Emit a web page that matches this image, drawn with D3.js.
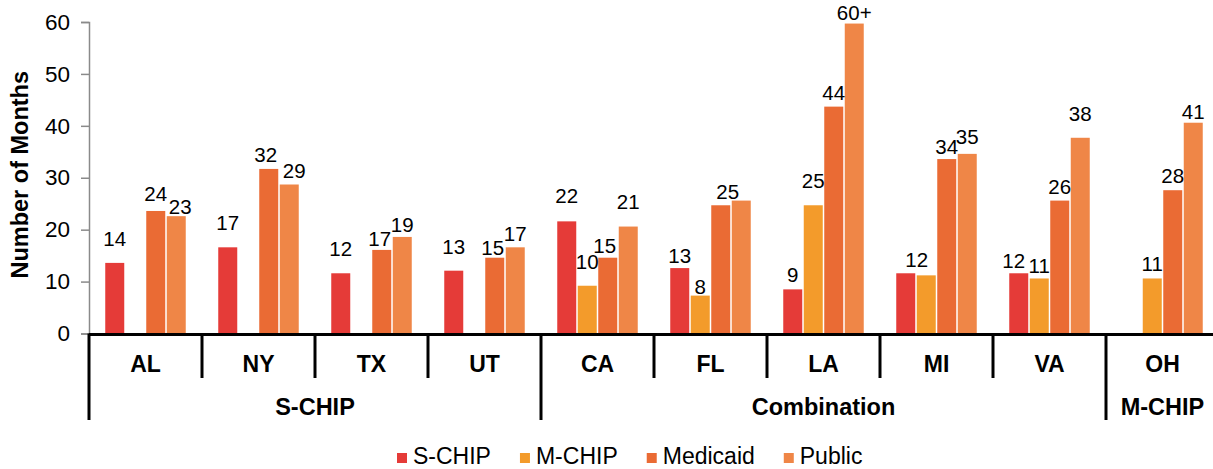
<!DOCTYPE html>
<html>
<head>
<meta charset="utf-8">
<script src="https://cdn.jsdelivr.net/npm/d3@7"></script>
<style>
  body { margin: 0; background: #fff; }
  text { font-family: "Liberation Sans", Arial, sans-serif; fill: #000; }
</style>
</head>
<body>
<div id="chart"></div>
<script>
// data
const states = ["AL", "NY", "TX", "UT", "CA", "FL", "LA", "MI", "VA", "OH"];
const programs = ["S-CHIP", "S-CHIP", "S-CHIP", "S-CHIP", "Combination", "Combination", "Combination", "Combination", "Combination", "M-CHIP"];
const series = ["S-CHIP", "M-CHIP", "Medicaid", "Public"];

const sChip    = [13.6, 16.6, 11.6, 12.1, 21.6, 12.6, 8.5, 11.6, 11.6, null];
const mChip    = [null, null, null, null, 9.2, 7.3, 24.7, 11.2, 10.6, 10.6];
const medicaid = [23.6, 31.7, 16.1, 14.6, 14.6, 24.7, 43.7, 33.6, 25.6, 27.6];
const pub      = [22.6, 28.7, 18.6, 16.6, 20.6, 25.6, 59.7, 34.6, 37.7, 40.6];

const sChipLabels    = ["14", "17", "12", "13", "22", "13", "9", "12", "12", ""];
const mChipLabels    = ["", "", "", "", "10", "8", "25", "", "11", "11"];
const medicaidLabels = ["24", "32", "17", "15", "15", "25", "44", "34", "26", "28"];
const publicLabels   = ["23", "29", "19", "17", "21", "", "60+", "35", "38", "41"];

const yTicks = [0, 10, 20, 30, 40, 50, 60];

const colors = ["#E53B38", "#F39B2B", "#EA6B34", "#EF8647"];

// label nudges [dx, gap above bar top], default gap 6
const labelTweaks = {
  "AL|S-CHIP": [0, 17], "AL|Medicaid": [0, 10], "AL|Public": [4, 2],
  "NY|S-CHIP": [0, 17], "NY|Medicaid": [-3, 7], "NY|Public": [5, 6],
  "TX|S-CHIP": [0, 17], "TX|Medicaid": [-2, 4], "TX|Public": [0, 5],
  "UT|S-CHIP": [0, 17], "UT|Medicaid": [-2, 3],
  "CA|S-CHIP": [0, 18], "CA|M-CHIP": [0, 17], "CA|Medicaid": [-3, 5], "CA|Public": [0, 18],
  "FL|S-CHIP": [0, 5], "FL|M-CHIP": [0, 2], "FL|Medicaid": [7, 6],
  "LA|S-CHIP": [0, 7], "LA|M-CHIP": [0, 17], "LA|Medicaid": [0, 7], "LA|Public": [0, 4],
  "MI|S-CHIP": [11, 6], "MI|Medicaid": [0, 5], "MI|Public": [0, 10],
  "VA|S-CHIP": [-5, 5], "VA|M-CHIP": [0, 5], "VA|Medicaid": [0, 7], "VA|Public": [0, 17],
  "OH|M-CHIP": [0, 7], "OH|Medicaid": [0, 7], "OH|Public": [0, 4]
};

const values = [sChip, mChip, medicaid, pub];
const labels = [sChipLabels, mChipLabels, medicaidLabels, publicLabels];

const width = 1213, height = 469;
const plotLeft = 89, plotRight = 1219, plotTop = 22, plotBottom = 333.5;

const svg = d3.select("#chart").append("svg")
  .attr("width", width)
  .attr("height", height);

const x0 = d3.scaleBand().domain(states).range([plotLeft, plotRight]).padding(0);
const x1 = d3.scaleBand().domain(series).range([0, x0.bandwidth()])
  .paddingInner(0).paddingOuter(0.756);
const y = d3.scaleLinear().domain([0, 60]).range([plotBottom, plotTop]);

// y axis
const yAxis = svg.append("g")
  .attr("transform", `translate(${plotLeft},0)`)
  .call(d3.axisLeft(y).tickValues(yTicks).tickSize(8).tickPadding(11));
yAxis.select(".domain").attr("stroke", "#8a8a8a").attr("stroke-width", 1.5);
yAxis.selectAll(".tick line").attr("stroke", "#8a8a8a").attr("stroke-width", 1.5);
yAxis.selectAll(".tick text")
  .style("font-family", "'Liberation Sans', Arial, sans-serif")
  .style("font-size", "22.5px").attr("fill", "#000");

svg.append("text")
  .attr("transform", `translate(28,${(plotTop + plotBottom) / 2 - 3}) rotate(-90)`)
  .attr("text-anchor", "middle")
  .style("font-size", "23.5px").style("font-weight", "bold")
  .text("Number of Months");

// bars
const rows = [];
states.forEach((s, i) => {
  series.forEach((k, j) => {
    if (values[j][i] != null) rows.push({ state: s, key: k, j: j, v: values[j][i], label: labels[j][i] });
  });
});

svg.append("g").selectAll("rect")
  .data(rows)
  .enter()
  .append("rect")
  .attr("x", d => x0(d.state) + x1(d.key) + 0.75)
  .attr("width", x1.bandwidth() - 1.5)
  .attr("y", d => y(d.v))
  .attr("height", d => y(0) - y(d.v))
  .attr("fill", d => colors[d.j]);

// value labels
const tweak = d => labelTweaks[d.state + "|" + d.key] || [0, 6];
svg.append("g").selectAll("text")
  .data(rows.filter(d => d.label))
  .enter()
  .append("text")
  .attr("x", d => x0(d.state) + x1(d.key) + x1.bandwidth() / 2 + tweak(d)[0])
  .attr("y", d => y(d.v) - tweak(d)[1])
  .attr("text-anchor", "middle")
  .style("font-size", "20.5px")
  .text(d => d.label);

// category axis
svg.append("line")
  .attr("x1", plotLeft).attr("x2", width)
  .attr("y1", y(0) + 1).attr("y2", y(0) + 1)
  .attr("stroke", "#000").attr("stroke-width", 3);

const groupStarts = states.filter((s, i) => i === 0 || programs[i] !== programs[i - 1]);
svg.append("g").selectAll("line")
  .data(states)
  .enter()
  .append("line")
  .attr("x1", d => x0(d)).attr("x2", d => x0(d))
  .attr("y1", y(0)).attr("y2", d => groupStarts.includes(d) ? 420 : 378)
  .attr("stroke", "#000").attr("stroke-width", 3);

svg.append("g").selectAll("text")
  .data(states)
  .enter()
  .append("text")
  .attr("x", d => x0(d) + x0.bandwidth() / 2)
  .attr("y", 372)
  .attr("text-anchor", "middle")
  .style("font-size", "23px").style("font-weight", "bold")
  .text(d => d);

const groups = Array.from(d3.group(states, s => programs[states.indexOf(s)]), ([name, list]) => ({ name, list }));
svg.append("g").selectAll("text")
  .data(groups)
  .enter()
  .append("text")
  .attr("x", d => (x0(d.list[0]) + x0(d.list[d.list.length - 1]) + x0.bandwidth()) / 2)
  .attr("y", 415)
  .attr("text-anchor", "middle")
  .style("font-size", "23.5px").style("font-weight", "bold")
  .text(d => d.name);

// legend
const legend = svg.append("g");
let lx = 397;
series.forEach((k, j) => {
  legend.append("rect")
    .attr("x", lx).attr("y", 453).attr("width", 10).attr("height", 10)
    .attr("fill", colors[j]);
  const t = legend.append("text")
    .attr("x", lx + 16).attr("y", 464)
    .style("font-size", "23px")
    .text(k);
  lx += 16 + t.node().getComputedTextLength() + 29;
});
</script>
</body>
</html>
